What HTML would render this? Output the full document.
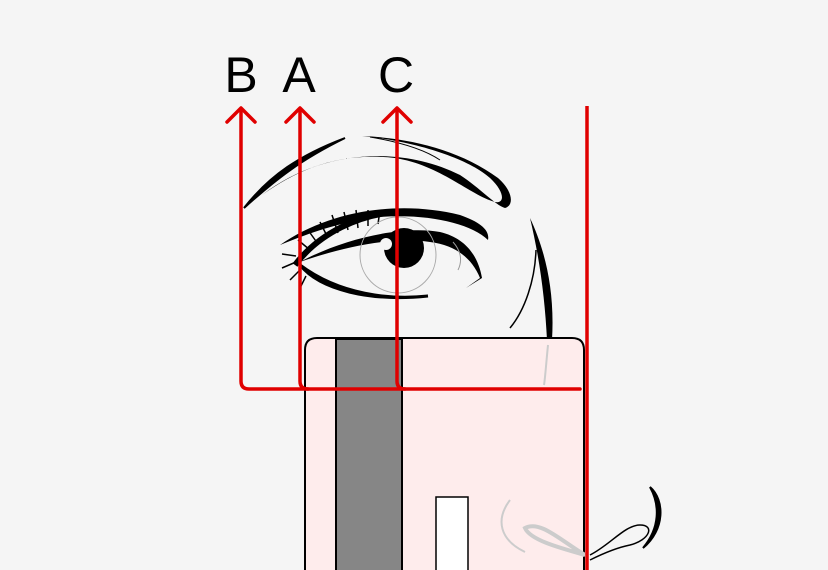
<!DOCTYPE html>
<html><head><style>html,body{margin:0;padding:0;background:#f5f5f5}svg{display:block}</style></head>
<body>
<svg width="828" height="570" viewBox="0 0 828 570" xmlns="http://www.w3.org/2000/svg">
<rect width="828" height="570" fill="#f5f5f5"/>
<!-- brow -->
<path d="M244 208 C270 175 300 155 345 138 C300 160 275 180 244 208Z" fill="#000" stroke="#000" stroke-width="2"/>
<path d="M262 195 C320 150 400 145 460 175 C480 188 495 205 505 208 C515 205 512 190 498 178 C460 150 410 138 362 136 C420 142 470 160 490 178 C505 192 505 204 495 202 C470 195 440 165 395 158 C340 152 300 168 262 195Z" fill="#000"/>
<path d="M370 137 C400 142 425 150 440 160" fill="none" stroke="#000" stroke-width="1"/>
<!-- upper lid -->
<path d="M280 245 C330 210 400 200 460 215 C480 222 490 230 488 240 C470 222 420 212 370 218 C330 225 305 235 280 245Z" fill="#000"/>
<path d="M300 262 C340 240 400 225 440 232 C465 238 478 255 482 278 L466 288 L480 278 C472 258 455 245 430 242 C390 236 340 248 300 262Z" fill="#000"/>
<path d="M295 265 C320 232 360 215 395 212" fill="none" stroke="#000" stroke-width="6"/>
<g stroke="#000" stroke-width="1.5" fill="none">
<path d="M310 250 l-12 -10 M318 244 l-10 -14 M328 238 l-8 -16 M338 233 l-6 -18 M348 230 l-4 -18 M358 228 l-2 -18 M368 226 l0 -16 M378 224 l2 -14 M296 256 l-14 -2 M296 262 l-14 6 M300 270 l-10 10 M306 276 l-6 12"/>
</g>
<!-- lower lid -->
<path d="M300 265 C320 290 370 302 428 296 C390 300 340 295 300 265Z" fill="#000" stroke="#000" stroke-width="3"/>
<!-- iris -->
<circle cx="398" cy="255" r="38" fill="none" stroke="#aaa" stroke-width="1"/>
<circle cx="404" cy="248" r="20" fill="#000"/>
<circle cx="386" cy="244" r="6" fill="#f5f5f5"/>
<path d="M453 242 C462 252 462 262 458 270" fill="none" stroke="#999" stroke-width="1"/>
<!-- nose side -->
<path d="M530 218 C545 250 555 290 552 340 L547 340 C545 300 540 260 530 218Z" fill="#000"/>
<path d="M536 250 C535 280 525 310 510 328" fill="none" stroke="#000" stroke-width="1.5"/>
<!-- card -->
<path d="M305 570 L305 350 Q305 338 317 338 L572 338 Q584 338 584 350 L584 570" fill="#feecec" stroke="#000" stroke-width="2"/>
<rect x="336" y="339" width="66" height="240" fill="#868686" stroke="#000" stroke-width="2"/>
<rect x="436" y="497" width="32" height="80" fill="#fff" stroke="#000" stroke-width="1.5"/>
<path d="M548 345 C546 365 545 380 544 385" fill="none" stroke="#ccc" stroke-width="2"/>
<path d="M510 500 C495 520 500 540 525 552" fill="none" stroke="#ccc" stroke-width="2"/>
<path d="M525 528 C540 520 560 540 585 555 C560 548 530 540 525 528Z" fill="none" stroke="#ccc" stroke-width="4"/>
<!-- nostril right -->
<path d="M650 487 C665 500 665 530 643 548 C660 528 660 505 650 487Z" fill="#000" stroke="#000" stroke-width="2"/>
<path d="M590 555 C610 545 625 525 640 525 C655 525 650 540 630 545 C615 548 600 555 590 560" fill="none" stroke="#000" stroke-width="1.5"/>
<!-- red lines -->
<g stroke="#e00000" stroke-width="3.5" fill="none" stroke-linecap="round" stroke-linejoin="round">
<path d="M241 110 L241 381 Q241 389 249 389 L580 389"/>
<path d="M300 110 L300 381 Q300 389 308 389"/>
<path d="M397 110 L397 381 Q397 389 405 389"/>
<path d="M227 122 L241 108 L255 122"/>
<path d="M286 122 L300 108 L314 122"/>
<path d="M383 122 L397 108 L411 122"/>
<path d="M587 106 L587 570" stroke-linecap="butt"/>
</g>
<g font-family="Liberation Sans, sans-serif" font-size="50" text-anchor="middle" fill="#000">
<text x="241" y="92">B</text>
<text x="299" y="92">A</text>
<text x="396" y="92">C</text>
</g>
</svg>
</body></html>
